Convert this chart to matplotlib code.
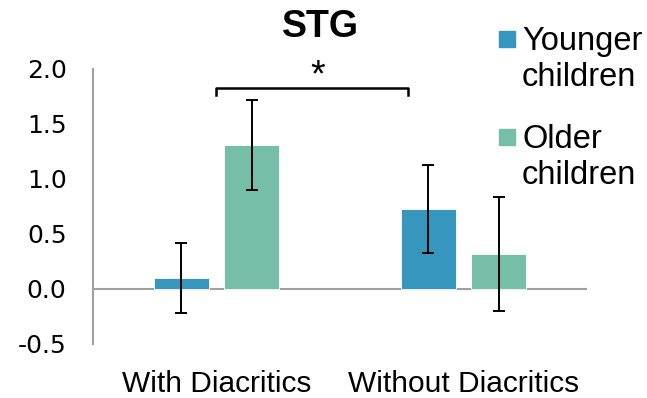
import matplotlib.pyplot as plt
import numpy as np
from matplotlib.patches import Rectangle

# datos
condiciones = ['With Diacritics', 'Without Diacritics']
grupos = ['Younger\nchildren', 'Older\nchildren']
colores = ['#3796BD', '#76BEA8']
medias = {
    'Younger\nchildren': [0.10, 0.73],
    'Older\nchildren': [1.31, 0.32],
}
errores = {
    'Younger\nchildren': [0.32, 0.40],
    'Older\nchildren': [0.41, 0.52],
}
yticks = [-0.5, 0.0, 0.5, 1.0, 1.5, 2.0]

fig = plt.figure(figsize=(6.47, 3.98), dpi=100)
ax = fig.add_axes([0.1437, 0.1357, 0.7635, 0.691])

x = np.arange(len(condiciones))
ancho = 0.22
desplaz = [-0.142, 0.142]
for g, col, d in zip(grupos, colores, desplaz):
    ax.bar(x + d, medias[g], width=ancho, color=col, edgecolor='white', linewidth=0.6, zorder=2)
    ax.errorbar(x + d, medias[g], yerr=errores[g], fmt='none', ecolor='black',
                elinewidth=1.4, capsize=4.5, capthick=1.4, zorder=3)

ax.set_xlim(-0.5, 1.5)
ax.set_ylim(-0.5, 2.0)
ax.axhline(0, color='#a0a0a0', linewidth=1.5, zorder=1)
for s in ['top', 'right', 'bottom']:
    ax.spines[s].set_visible(False)
ax.spines['left'].set_color('#a0a0a0')
ax.spines['left'].set_linewidth(1.5)

ax.set_yticks(yticks)
ax.set_yticklabels(['%.1f' % v for v in yticks], fontfamily='DejaVu Sans', fontsize=18)
ax.tick_params(axis='y', length=0, pad=19)
ax.set_xticks(x)
ax.set_xticklabels(condiciones, fontfamily='Liberation Sans', fontsize=21.5)
ax.tick_params(axis='x', length=0, pad=19)

# corchete de significancia
ax.plot([0.0, 0.0, 0.775, 0.775], [1.76, 1.83, 1.83, 1.76], color='black',
        linewidth=1.8, clip_on=False)
ax.text(0.41, 1.93, '*', ha='center', va='center', fontsize=27,
        fontfamily='Liberation Sans', clip_on=False)

fig.text(0.495, 0.932, 'STG', ha='center', va='center', fontsize=27,
         fontweight='bold', fontfamily='Liberation Sans')

# leyenda
for i, (g, col) in enumerate(zip(grupos, colores)):
    ytop = 1 - (27 + 98 * i) / 398
    fig.patches.append(Rectangle((499 / 647, ytop - 20 / 398), 16 / 647, 16 / 398,
                                 transform=fig.transFigure, color=col))
    fig.text(522 / 647, ytop + 1 / 398, g, ha='left', va='top', fontsize=23.5,
             fontfamily='Liberation Sans', linespacing=1.2)

plt.savefig('out.png', dpi=100)
